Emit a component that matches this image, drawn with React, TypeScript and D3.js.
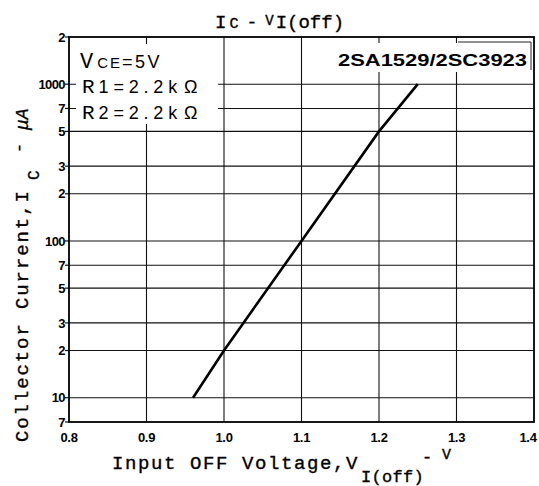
import React from "react";
import * as d3 from "d3";

const xTicks = [0.8, 0.9, 1.0, 1.1, 1.2, 1.3, 1.4];
const xTickLabels = ["0.8", "0.9", "1.0", "1.1", "1.2", "1.3", "1.4"];
const yTicks = [2000, 1000, 700, 500, 300, 200, 100, 70, 50, 30, 20, 10, 7];
const yTickLabels = ["2", "1000", "7", "5", "3", "2", "100", "7", "5", "3", "2", "10", "7"];
const vIoff = [0.96, 1.0, 1.1, 1.2, 1.25];
const icUA = [10, 20, 100, 500, 1000];

const W = 539;
const H = 486;
const L = 69, R = 534, T = 37, B = 422;

const MONO = "'Liberation Mono', 'Courier New', monospace";
const SANS = "'Liberation Sans', Arial, sans-serif";

export default function App() {
  const x = d3.scaleLinear().domain([0.8, 1.4]).range([L, R]);
  const y = d3.scaleLog().domain([7, 2000]).range([B, T]);
  const line = d3
    .line<number>()
    .x((_, i) => x(vIoff[i]))
    .y((d) => y(d));
  const pts = icUA;
  const thick = { stroke: "#000", strokeWidth: 0.35 };

  return (
    <svg width={W} height={H} style={{ position: "absolute", left: 0, top: 0, background: "#fff" }}>
      <rect x={0} y={0} width={W} height={H} fill="#fff" />
      {/* grid */}
      {xTicks.slice(1, -1).map((t) => (
        <line key={"gx" + t} x1={x(t)} x2={x(t)} y1={T} y2={B} stroke="#111" strokeWidth={1.1} />
      ))}
      {yTicks.slice(1, -1).map((t) => (
        <line key={"gy" + t} x1={L} x2={R} y1={y(t)} y2={y(t)} stroke="#111" strokeWidth={1.1} />
      ))}
      {/* left ticks */}
      {yTicks.map((t) => (
        <line key={"ty" + t} x1={L - 4} x2={L} y1={y(t)} y2={y(t)} stroke="#111" strokeWidth={1.2} />
      ))}
      {/* white label backgrounds */}
      <rect x={76} y={44} width={142} height={80} fill="#fff" />
      <rect x={320} y={43} width={211} height={29} fill="#fff" />
      <polyline points="458,42 531,42 531,70" fill="none" stroke="#222" strokeWidth={1} />
      {/* frame */}
      <rect x={L} y={T} width={R - L} height={B - T} fill="none" stroke="#000" strokeWidth={1.8} />
      {/* data */}
      <path d={line(pts) || ""} fill="none" stroke="#000" strokeWidth={2.6} />

      {/* y tick labels */}
      {yTicks.map((t, i) => (
        <text
          key={"yl" + i}
          x={L - 4}
          y={y(t)}
          dy="0.36em"
          textAnchor="end"
          fontFamily={SANS}
          fontWeight="bold"
          fontSize={13}
          letterSpacing={-0.6}
        >
          {yTickLabels[i]}
        </text>
      ))}
      {/* x tick labels */}
      {xTicks.map((t, i) => (
        <text
          key={"xl" + i}
          x={i === xTicks.length - 1 ? x(t) - 6 : x(t)}
          y={442}
          textAnchor="middle"
          fontFamily={SANS}
          fontWeight="bold"
          fontSize={13}
          letterSpacing={-0.3}
        >
          {xTickLabels[i]}
        </text>
      ))}

      {/* title */}
      <text x={215} y={28} fontFamily={MONO} fontSize={19} {...thick}>
        I
        <tspan fontSize={15} dx={3}>C</tspan>
        <tspan fontSize={18} dx={8}>-</tspan>
        <tspan fontSize={14} dx={8} dy={-3}>V</tspan>
        <tspan fontSize={19} dx={2} dy={3}>I(off)</tspan>
      </text>

      {/* x axis label */}
      <text x={112} y={469} fontFamily={MONO} fontSize={19} letterSpacing={1.6} {...thick}>
        Input OFF Voltage,V
      </text>
      <text x={361} y={482} fontFamily={MONO} fontSize={17} letterSpacing={0.3} {...thick}>
        I(off)
      </text>
      <text x={422} y={462} fontFamily={MONO} fontSize={17} {...thick}>
        -
      </text>
      <text x={442} y={459} fontFamily={MONO} fontSize={15} {...thick}>
        V
      </text>

      {/* y axis label */}
      <g transform="translate(28,442) rotate(-90)">
        <text x={0} y={0} fontFamily={MONO} fontSize={19} letterSpacing={1.9} {...thick}>
          Collector Current,I
        </text>
        <text x={262} y={11} fontFamily={MONO} fontSize={16} {...thick}>
          C
        </text>
        <text x={289} y={-4} fontFamily={MONO} fontSize={17} {...thick}>
          -
        </text>
        <text x={312} y={0} fontFamily={MONO} fontSize={18} fontStyle="italic" {...thick}>
          μA
        </text>
      </g>

      {/* conditions */}
      <text x={80} y={68} fontFamily={SANS} fontSize={17}>
        <tspan fontFamily={MONO} fontSize={22}>V</tspan>
        <tspan dx={4} fontSize={15} letterSpacing={2}>CE</tspan>
        <tspan fontSize={18} letterSpacing={2.5}>=5V</tspan>
      </text>
      <text x={82} y={93} fontFamily={SANS} fontSize={18}>
        <tspan fontFamily={MONO} fontSize={21}>R</tspan>
        <tspan dx={4} letterSpacing={4.8}>1=2.2k</tspan>
        <tspan dx={2}>Ω</tspan>
      </text>
      <text x={82} y={119} fontFamily={SANS} fontSize={18}>
        <tspan fontFamily={MONO} fontSize={21}>R</tspan>
        <tspan dx={4} letterSpacing={4.8}>2=2.2k</tspan>
        <tspan dx={2}>Ω</tspan>
      </text>

      {/* part number */}
      <text
        x={338}
        y={66}
        fontFamily={SANS}
        fontWeight="bold"
        fontSize={17}
        textLength={189}
        lengthAdjust="spacingAndGlyphs"
      >
        2SA1529/2SC3923
      </text>
    </svg>
  );
}
